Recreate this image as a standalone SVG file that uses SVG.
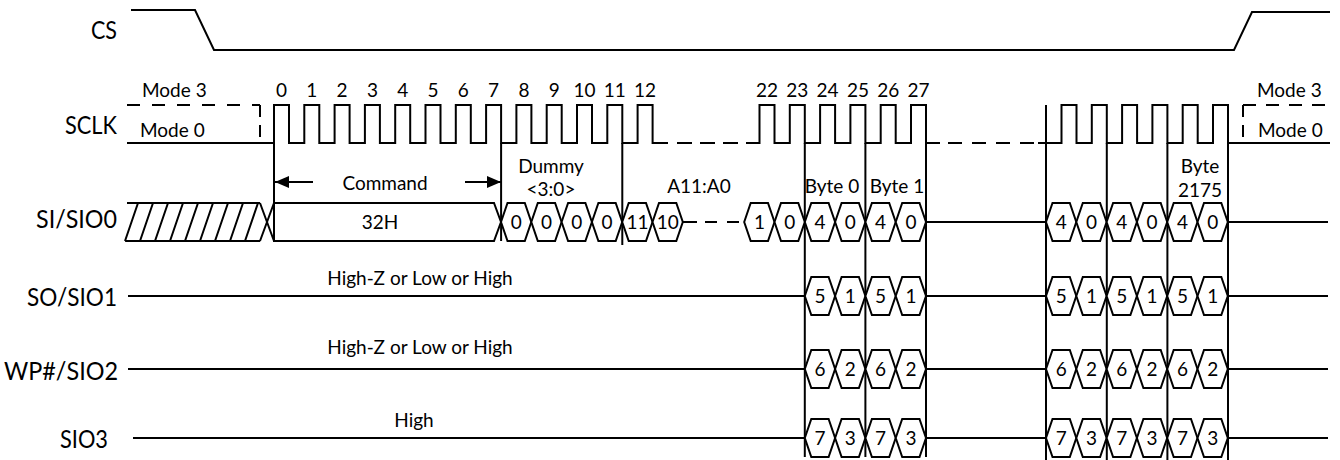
<svg xmlns="http://www.w3.org/2000/svg" xmlns:xlink="http://www.w3.org/1999/xlink" width="1340" height="460" viewBox="0 0 1340 460">
<style>
.ln{fill:none;stroke:#000;stroke-width:2}
.dash{fill:none;stroke:#000;stroke-width:2}
.hx{fill:#fff;stroke:#000;stroke-width:2}
.lbl{font-family:Lato,"Liberation Sans",sans-serif;font-size:25px;text-anchor:end;fill:#000}
.t{font-family:Lato,"Liberation Sans",sans-serif;font-size:19px;text-anchor:middle;fill:#000}
.ts{font-family:Lato,"Liberation Sans",sans-serif;font-size:19px;fill:#000}
</style>
<defs>
<path id="hx" class="hx" d="M0,0 L6.5,-19 H23.8 L30.3,0 L23.8,19 H6.5 Z"/>
<marker id="ah" viewBox="0 0 14 12" refX="14" refY="6" markerWidth="14" markerHeight="12" markerUnits="userSpaceOnUse" orient="auto">
<path d="M0,0 L14,6 L0,12 Z" fill="#000"/>
</marker>
</defs>
<rect width="1340" height="460" fill="#fff"/>

<g id="cs">
<text class="lbl" x="117" y="39" textLength="26" lengthAdjust="spacingAndGlyphs">CS</text>
<path class="ln" d="M131,10 H195 L214,50 H1234 L1252,12 H1330"/>
</g>

<g id="sclk">
<text class="lbl" x="117" y="134" textLength="52" lengthAdjust="spacingAndGlyphs">SCLK</text>
<text class="ts" x="142" y="97">Mode 3</text>
<text class="ts" x="140" y="137">Mode 0</text>
<text class="ts" x="1257" y="97">Mode 3</text>
<text class="ts" x="1258" y="137">Mode 0</text>
<path class="dash" stroke-dasharray="13,12" d="M127,105 H260"/>
<path class="dash" stroke-dasharray="12,8" d="M260,105 V143"/>
<path class="dash" stroke-dasharray="12,8" d="M1243,105 V143"/>
<path class="dash" stroke-dasharray="13,10" d="M1243,105 H1330"/>
<path class="ln" d="M127,143 H274 V105 H289 V143 H304.3 V105 H319.3 V143 H334.6 V105 H349.6 V143 H364.9 V105 H379.9 V143 H395.2 V105 H410.2 V143 H425.5 V105 H440.5 V143 H455.8 V105 H470.8 V143 H486.1 V105 H501.1 V143 H516.4 V105 H531.4 V143 H546.7 V105 H561.7 V143 H577 V105 H592 V143 H607.3 V105 H622.3 V143 H637.6 V105 H652.6 V143 H668"/>
<path class="dash" stroke-dasharray="15,8" d="M677,143 H747"/>
<path class="ln" d="M746,143 H759.5 V105 H774.5 V143 H789.8 V105 H804.8 V143 H820.1 V105 H835.1 V143 H850.4 V105 H865.4 V143 H880.7 V105 H895.7 V143 H911 V105 H926 V143 H940"/>
<path class="dash" stroke-dasharray="14,10" d="M948,143 H1034"/>
<path class="ln" d="M1038,143 H1061.5 V105 H1076.5 V143 H1091.8 V105 H1106.8 V143 H1122.1 V105 H1137.1 V143 H1152.4 V105 H1167.4 V143 H1182.7 V105 H1197.7 V143 H1213 V105 H1228 V143 H1330"/>
<g class="t">
<text x="281.5" y="97">0</text><text x="311.8" y="97">1</text><text x="342.1" y="97">2</text><text x="372.4" y="97">3</text><text x="402.7" y="97">4</text><text x="433" y="97">5</text><text x="463.3" y="97">6</text><text x="493.6" y="97">7</text><text x="523.9" y="97">8</text><text x="554.2" y="97">9</text><text x="584.5" y="97">10</text><text x="614.8" y="97">11</text><text x="645.1" y="97">12</text>
<text x="767" y="97">22</text><text x="797.3" y="97">23</text><text x="827.6" y="97">24</text><text x="857.9" y="97">25</text><text x="888.2" y="97">26</text><text x="918.5" y="97">27</text>
</g>
</g>

<g id="markers">
<path class="ln" d="M274,143 V241 M501.1,143 V241 M622.3,143 V245 M804.8,143 V457 M865.4,143 V457 M926,143 V457 M1046,105 V460 M1106.8,143 V460 M1167.4,143 V460 M1228,143 V460"/>
</g>

<g id="si">
<text class="lbl" x="117" y="228" textLength="81" lengthAdjust="spacingAndGlyphs">SI/SIO0</text>
<path class="ln" d="M127,203 H260 M125,241 H260 M125,241 L138,203 M140,241 L153,203 M155,241 L168,203 M170,241 L183,203 M185,241 L198,203 M200,241 L213,203 M215,241 L228,203 M230,241 L243,203 M245,241 L258,203 M260,203 L274,241 M260,241 L274,203"/>
<path class="hx" d="M274,203 H494 L501,222 L494,241 H274 Z"/>
<text class="t" x="380" y="229">32H</text>
<text class="t" x="385" y="190">Command</text>
<text class="t" x="551" y="173">Dummy</text>
<text class="t" x="551" y="196">&lt;3:0&gt;</text>
<text class="t" x="699" y="193">A11:A0</text>
<text class="t" x="832" y="193">Byte 0</text>
<text class="t" x="897" y="193">Byte 1</text>
<text class="t" x="1200" y="173">Byte</text>
<text class="t" x="1200" y="197">2175</text>
<path class="ln" d="M683,222 H697 M926,222 H1046 M1228,222 H1328"/>
<path class="dash" stroke-dasharray="12,10" d="M705,222 H744"/>
<use xlink:href="#hx" x="501" y="222"/><use xlink:href="#hx" x="531.3" y="222"/><use xlink:href="#hx" x="561.6" y="222"/><use xlink:href="#hx" x="591.9" y="222"/>
<use xlink:href="#hx" x="622.2" y="222"/><use xlink:href="#hx" x="652.5" y="222"/>
<use xlink:href="#hx" x="744.2" y="222"/><use xlink:href="#hx" x="774.5" y="222"/>
<use xlink:href="#hx" x="804.8" y="222"/><use xlink:href="#hx" x="835.1" y="222"/><use xlink:href="#hx" x="865.4" y="222"/><use xlink:href="#hx" x="895.7" y="222"/>
<use xlink:href="#hx" x="1046" y="222"/><use xlink:href="#hx" x="1076.3" y="222"/><use xlink:href="#hx" x="1106.6" y="222"/><use xlink:href="#hx" x="1136.9" y="222"/><use xlink:href="#hx" x="1167.2" y="222"/><use xlink:href="#hx" x="1197.5" y="222"/>
<g class="t">
<text x="516.2" y="229">0</text><text x="546.5" y="229">0</text><text x="576.8" y="229">0</text><text x="607.1" y="229">0</text>
<text x="637.4" y="229">11</text><text x="667.7" y="229">10</text>
<text x="759.4" y="229">1</text><text x="789.7" y="229">0</text>
<text x="820" y="229">4</text><text x="850.3" y="229">0</text><text x="880.6" y="229">4</text><text x="910.9" y="229">0</text>
<text x="1061.2" y="229">4</text><text x="1091.5" y="229">0</text><text x="1121.8" y="229">4</text><text x="1152.1" y="229">0</text><text x="1182.4" y="229">4</text><text x="1212.7" y="229">0</text>
</g>
</g>

<g id="so">
<text class="lbl" x="117" y="306" textLength="90" lengthAdjust="spacingAndGlyphs">SO/SIO1</text>
<text class="t" x="420" y="285">High-Z or Low or High</text>
<path class="ln" d="M128,296 H805 M926,296 H1046 M1228,296 H1328"/>
<use xlink:href="#hx" x="804.8" y="296"/><use xlink:href="#hx" x="835.1" y="296"/><use xlink:href="#hx" x="865.4" y="296"/><use xlink:href="#hx" x="895.7" y="296"/>
<use xlink:href="#hx" x="1046" y="296"/><use xlink:href="#hx" x="1076.3" y="296"/><use xlink:href="#hx" x="1106.6" y="296"/><use xlink:href="#hx" x="1136.9" y="296"/><use xlink:href="#hx" x="1167.2" y="296"/><use xlink:href="#hx" x="1197.5" y="296"/>
<g class="t">
<text x="820" y="303">5</text><text x="850.3" y="303">1</text><text x="880.6" y="303">5</text><text x="910.9" y="303">1</text>
<text x="1061.2" y="303">5</text><text x="1091.5" y="303">1</text><text x="1121.8" y="303">5</text><text x="1152.1" y="303">1</text><text x="1182.4" y="303">5</text><text x="1212.7" y="303">1</text>
</g>
</g>

<g id="wp">
<text class="lbl" x="118" y="380" textLength="114" lengthAdjust="spacingAndGlyphs">WP#/SIO2</text>
<text class="t" x="420" y="354">High-Z or Low or High</text>
<path class="ln" d="M128,369 H805 M926,369 H1046 M1228,369 H1328"/>
<use xlink:href="#hx" x="804.8" y="369"/><use xlink:href="#hx" x="835.1" y="369"/><use xlink:href="#hx" x="865.4" y="369"/><use xlink:href="#hx" x="895.7" y="369"/>
<use xlink:href="#hx" x="1046" y="369"/><use xlink:href="#hx" x="1076.3" y="369"/><use xlink:href="#hx" x="1106.6" y="369"/><use xlink:href="#hx" x="1136.9" y="369"/><use xlink:href="#hx" x="1167.2" y="369"/><use xlink:href="#hx" x="1197.5" y="369"/>
<g class="t">
<text x="820" y="376">6</text><text x="850.3" y="376">2</text><text x="880.6" y="376">6</text><text x="910.9" y="376">2</text>
<text x="1061.2" y="376">6</text><text x="1091.5" y="376">2</text><text x="1121.8" y="376">6</text><text x="1152.1" y="376">2</text><text x="1182.4" y="376">6</text><text x="1212.7" y="376">2</text>
</g>
</g>

<g id="sio3">
<text class="lbl" x="108" y="448" textLength="48" lengthAdjust="spacingAndGlyphs">SIO3</text>
<text class="t" x="414" y="427">High</text>
<path class="ln" d="M133,438 H805 M926,438 H1046 M1228,438 H1328"/>
<use xlink:href="#hx" x="804.8" y="438"/><use xlink:href="#hx" x="835.1" y="438"/><use xlink:href="#hx" x="865.4" y="438"/><use xlink:href="#hx" x="895.7" y="438"/>
<use xlink:href="#hx" x="1046" y="438"/><use xlink:href="#hx" x="1076.3" y="438"/><use xlink:href="#hx" x="1106.6" y="438"/><use xlink:href="#hx" x="1136.9" y="438"/><use xlink:href="#hx" x="1167.2" y="438"/><use xlink:href="#hx" x="1197.5" y="438"/>
<g class="t">
<text x="820" y="445">7</text><text x="850.3" y="445">3</text><text x="880.6" y="445">7</text><text x="910.9" y="445">3</text>
<text x="1061.2" y="445">7</text><text x="1091.5" y="445">3</text><text x="1121.8" y="445">7</text><text x="1152.1" y="445">3</text><text x="1182.4" y="445">7</text><text x="1212.7" y="445">3</text>
</g>
</g>

<g id="connectors">
<path class="ln" marker-end="url(#ah)" d="M313,182 H275"/>
<path class="ln" marker-end="url(#ah)" d="M465,182 H501"/>
</g>
</svg>
